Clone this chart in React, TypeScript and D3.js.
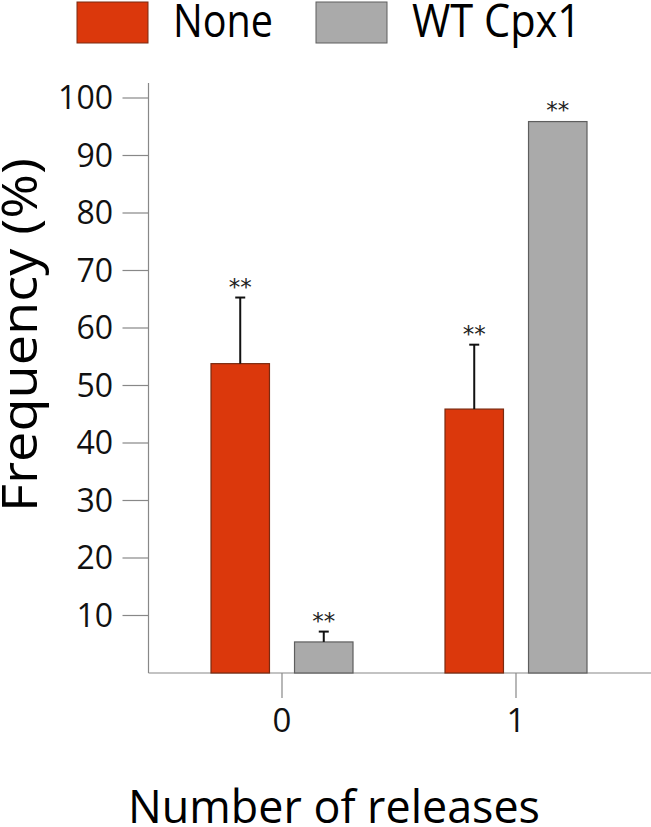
import * as d3 from 'd3';

const groups = ['0', '1'];
const series = ['None', 'WT Cpx1'];
const colors = ['#db380c', '#aaaaaa'];
const strokes = ['#7a2a10', '#5e5e5e'];
const noneValues = [53.8, 45.9];
const noneErrTop = [65.3, 57.1];
const wtValues = [5.4, 95.9];
const wtErrTop = [7.2, null];
const yTicks = [10, 20, 30, 40, 50, 60, 70, 80, 90, 100];

const FONT = '"Open Sans", sans-serif';

export default function App() {
  const width = 651;
  const height = 827;

  const y = d3.scaleLinear().domain([0, 100]).range([673, 98]);
  const x = d3.scaleBand<string>().domain(groups).range([165, 633]);
  const xs = d3.scaleBand<string>().domain(series).range([46, 188]).paddingInner(0.3);

  const axisLeft = 148.5;
  const baseY = y(0);

  const bars = groups.flatMap((g, i) => [
    { g, s: series[0], v: noneValues[i], err: noneErrTop[i], k: 0 },
    { g, s: series[1], v: wtValues[i], err: wtErrTop[i], k: 1 },
  ]);

  const legendLen = [100, 169];

  return (
    <div style={{ position: 'absolute', left: 0, top: 0 }}>
      <svg width={width} height={height} style={{ display: 'block', background: '#fff' }} fontFamily={FONT}>
        {/* legend */}
        {series.map((s, i) => {
          const lx = i === 0 ? 77 : 316;
          return (
            <g key={s}>
              <rect x={lx} y={2} width={71} height={41} fill={colors[i]} stroke={strokes[i]} strokeWidth={1} />
              <text x={lx + 96} y={37} fontSize={45} fill="#000"
                textLength={legendLen[i]} lengthAdjust="spacingAndGlyphs">{s}</text>
            </g>
          );
        })}

        {/* y axis */}
        <line x1={axisLeft} x2={axisLeft} y1={83} y2={baseY} stroke="#888" strokeWidth={1.2} />
        {yTicks.map((t) => (
          <g key={t}>
            <line x1={axisLeft - 26} x2={axisLeft} y1={y(t)} y2={y(t)} stroke="#888" strokeWidth={1.2} />
            <text x={113} y={y(t) + 11} fontSize={32} textAnchor="end" fill="#111">{t}</text>
          </g>
        ))}

        {/* x axis */}
        <line x1={axisLeft} x2={width} y1={baseY} y2={baseY} stroke="#888" strokeWidth={1.2} />
        {groups.map((g) => {
          const cx = (x(g) ?? 0) + x.bandwidth() / 2;
          return (
            <g key={g}>
              <line x1={cx} x2={cx} y1={baseY} y2={698} stroke="#888" strokeWidth={1.2} />
              <text x={cx} y={732} fontSize={33} textAnchor="middle" fill="#111">{g}</text>
            </g>
          );
        })}

        {/* bars */}
        {bars.map((b) => {
          const bx = (x(b.g) ?? 0) + (xs(b.s) ?? 0);
          const cx = bx + xs.bandwidth() / 2;
          const top = y(b.v);
          const errY = b.err != null ? y(b.err) : top;
          return (
            <g key={b.g + b.s}>
              <rect x={bx} y={top} width={xs.bandwidth()} height={baseY - top}
                fill={colors[b.k]} stroke={strokes[b.k]} strokeWidth={1.2} />
              {b.err != null && (
                <g stroke="#111" strokeWidth={2}>
                  <line x1={cx} x2={cx} y1={top} y2={errY} />
                  <line x1={cx - 5} x2={cx + 5} y1={errY} y2={errY} />
                </g>
              )}
              <text x={cx} y={errY - (b.err != null ? 3 : 4)} fontSize={23} textAnchor="middle" fill="#222"
                fontFamily='"DejaVu Sans", sans-serif'>**</text>
            </g>
          );
        })}

        {/* axis titles */}
        <text transform="translate(37,335) rotate(-90)" fontSize={49} textAnchor="middle" fill="#000"
          textLength={354} lengthAdjust="spacingAndGlyphs">Frequency (%)</text>
        <text x={334} y={823} fontSize={46} textAnchor="middle" fill="#000"
          textLength={412} lengthAdjust="spacingAndGlyphs">Number of releases</text>
      </svg>
    </div>
  );
}
